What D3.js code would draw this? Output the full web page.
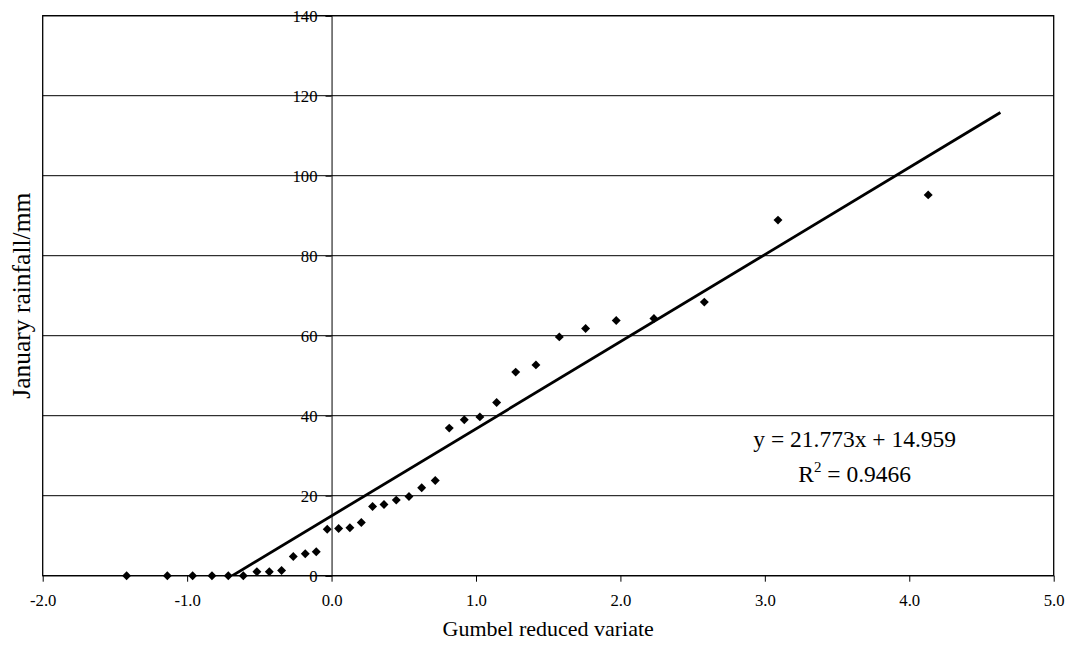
<!DOCTYPE html>
<html>
<head>
<meta charset="utf-8">
<script src="https://cdn.jsdelivr.net/npm/d3@7"></script>
<style>
  body { margin: 0; background: #fff; }
  text { font-family: "Liberation Serif", "Times New Roman", serif; fill: #000; }
</style>
</head>
<body>
<div class="grafico"></div>
<script>
// valores
const gumbelX = [-1.419, -1.137, -0.962, -0.828, -0.715, -0.611, -0.517, -0.431, -0.346, -0.265,
    -0.182, -0.106, -0.030, 0.049, 0.127, 0.206, 0.284, 0.363, 0.448, 0.536,
    0.624, 0.718, 0.815, 0.919, 1.027, 1.143, 1.275, 1.415, 1.577, 1.759,
    1.971, 2.232, 2.581, 3.091, 4.131];
const rainfall = [0, 0, 0, 0, 0, 0, 1.0, 1.0, 1.3, 4.8,
    5.5, 6.0, 11.6, 11.8, 12.0, 13.3, 17.3, 17.8, 18.9, 19.8,
    22.0, 23.8, 36.9, 39.0, 39.7, 43.3, 50.9, 52.7, 59.7, 61.8,
    63.8, 64.3, 68.4, 88.9, 95.2];
const xTicks = [-2, -1, 0, 1, 2, 3, 4, 5];
const xTickLabels = ['-2.0', '-1.0', '0.0', '1.0', '2.0', '3.0', '4.0', '5.0'];
const yTicks = [0, 20, 40, 60, 80, 100, 120, 140];
const trendSlope = 21.773, trendIntercept = 14.959;
const trendFrom = -1.419, trendTo = 4.631;
const eqText = 'y = 21.773x + 14.959';
const r2Text = '0.9466';

const ancho = 1071, alto = 647;
const margin = { top: 15.7, right: 17.3, bottom: 71.3, left: 42.7 };
const w = ancho - margin.left - margin.right,
    h = alto - margin.top - margin.bottom;
const fuente = '"Liberation Serif", "Times New Roman", serif';

const svg = d3.select('.grafico').append('svg')
    .attr('width', ancho)
    .attr('height', alto);

svg.append('rect').attr('width', ancho).attr('height', alto).attr('fill', '#fff');

const g = svg.append('g')
    .attr('transform', 'translate(' + margin.left + ',' + margin.top + ')');

const x = d3.scaleLinear().domain([-2, 5]).range([0, w]);
const y = d3.scaleLinear().domain([0, 140]).range([h, 0]);

g.append('clipPath').attr('id', 'zona')
    .append('rect').attr('width', w).attr('height', h);

// lineas de grilla
g.append('g')
    .selectAll('line')
    .data(yTicks)
    .enter().append('line')
    .attr('x1', 0).attr('x2', w)
    .attr('y1', d => y(d)).attr('y2', d => y(d))
    .attr('stroke', '#000').attr('stroke-width', 1);

// eje y en x = 0
const yAxis = g.append('g')
    .attr('transform', 'translate(' + x(0) + ',0)')
    .call(d3.axisLeft(y).tickValues(yTicks).tickSize(6).tickPadding(8).tickFormat(d3.format('d')));
yAxis.attr('font-family', fuente).attr('font-size', 16.7);
yAxis.select('.domain').attr('stroke', '#000');

// eje x abajo
const xAxis = g.append('g')
    .attr('transform', 'translate(0,' + h + ')')
    .call(d3.axisBottom(x).tickValues(xTicks).tickSize(6).tickPadding(12)
        .tickFormat((d, i) => xTickLabels[i]));
xAxis.attr('font-family', fuente).attr('font-size', 16.7);
xAxis.select('.domain').remove();

// borde
g.append('rect')
    .attr('width', w).attr('height', h)
    .attr('fill', 'none').attr('stroke', '#000').attr('stroke-width', 1.3);

// linea de tendencia
g.append('line')
    .attr('clip-path', 'url(#zona)')
    .attr('x1', x(trendFrom)).attr('y1', y(trendSlope * trendFrom + trendIntercept))
    .attr('x2', x(trendTo)).attr('y2', y(trendSlope * trendTo + trendIntercept))
    .attr('stroke', '#000').attr('stroke-width', 2.8);

// puntos (rombos)
const rombo = {
    draw(ctx, size) {
        const r = Math.sqrt(size / 2);
        ctx.moveTo(0, -r); ctx.lineTo(r, 0); ctx.lineTo(0, r); ctx.lineTo(-r, 0); ctx.closePath();
    }
};
g.append('g')
    .selectAll('path')
    .data(gumbelX)
    .enter().append('path')
    .attr('d', d3.symbol().type(rombo).size(40))
    .attr('transform', (d, i) => 'translate(' + x(d) + ',' + y(rainfall[i]) + ')')
    .attr('fill', '#000');

// ecuacion
const eq = g.append('text')
    .attr('x', 812).attr('y', 431)
    .attr('text-anchor', 'middle')
    .style('font-size', '23.5px');
eq.text(eqText);

const r2 = g.append('text')
    .attr('x', 812).attr('y', 466)
    .attr('text-anchor', 'middle')
    .style('font-size', '23.5px');
r2.append('tspan').text('R');
r2.append('tspan').attr('dy', -10).style('font-size', '15px').text('2');
r2.append('tspan').attr('dy', 10).text(' = ' + r2Text);

// titulos de ejes
svg.append('text')
    .attr('x', margin.left + w / 2).attr('y', 636)
    .attr('text-anchor', 'middle')
    .style('font-size', '22px')
    .text('Gumbel reduced variate');

svg.append('text')
    .attr('transform', 'translate(30,' + (margin.top + h / 2) + ') rotate(-90)')
    .attr('text-anchor', 'middle')
    .style('font-size', '25.5px')
    .text('January rainfall/mm');
</script>
</body>
</html>
